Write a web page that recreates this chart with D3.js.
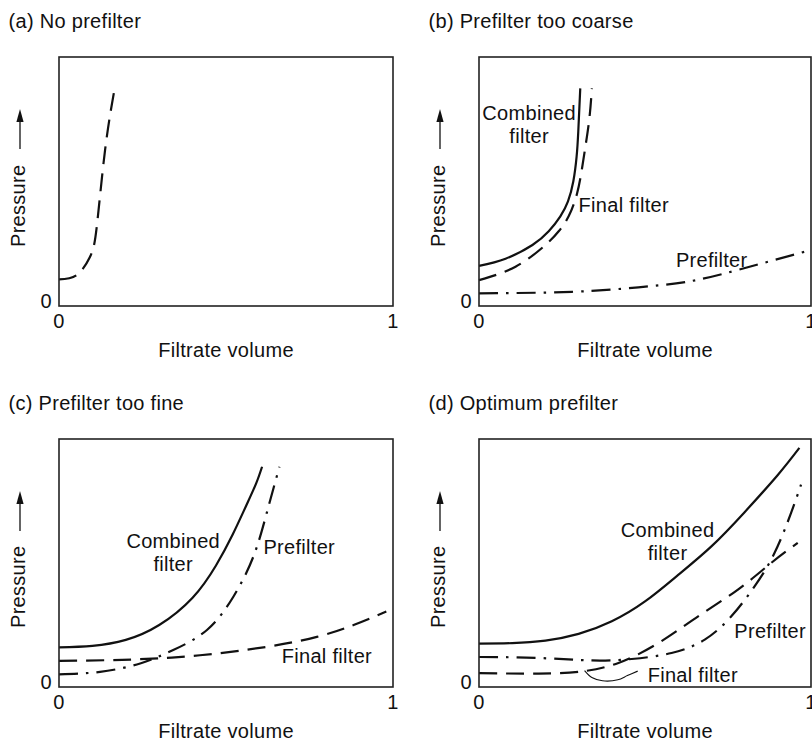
<!DOCTYPE html>
<html><head><meta charset="utf-8">
<script src="https://cdn.jsdelivr.net/npm/d3@7"></script>
<style>
body{margin:0;background:#fff}
svg{display:block}
text{font-family:"Liberation Sans",Arial,Helvetica,sans-serif;font-size:20px;letter-spacing:0.3px;fill:#111}
</style>
</head><body>
<svg id="chart" width="812" height="740"></svg>
<script>
// ---------- data (x: filtrate volume 0..1, y: relative pressure 0..1) ----------
const panelTitles = ["(a) No prefilter", "(b) Prefilter too coarse", "(c) Prefilter too fine", "(d) Optimum prefilter"];
const xTickLabels = ["0", "1"];
const yTickLabels = ["0"];
const xAxisTitle = "Filtrate volume";
const yAxisTitle = "Pressure";

// (a) No prefilter
const aFinal = [[0,0.107],[0.053,0.124],[0.093,0.198],[0.113,0.318],[0.138,0.627],[0.168,0.884]];

// (b) Prefilter too coarse
const bCombined = [[0,0.161],[0.08,0.19],[0.161,0.245],[0.21,0.3],[0.245,0.36],[0.268,0.42],[0.284,0.5],[0.294,0.6],[0.299,0.7],[0.305,0.874]];
const bFinal    = [[0,0.104],[0.11,0.158],[0.2,0.245],[0.24,0.3],[0.27,0.36],[0.295,0.45],[0.31,0.55],[0.322,0.653],[0.333,0.76],[0.34,0.874]];
const bPre      = [[0,0.051],[0.28,0.057],[0.48,0.075],[0.63,0.098],[0.78,0.145],[1.0,0.225]];

// (c) Prefilter too fine
const cCombined = [[0,0.16],[0.1,0.166],[0.2,0.19],[0.3,0.25],[0.4,0.36],[0.47,0.49],[0.52,0.615],[0.56,0.73],[0.59,0.82],[0.608,0.888]];
const cPre      = [[0,0.051],[0.123,0.061],[0.243,0.095],[0.342,0.149],[0.443,0.23],[0.522,0.364],[0.582,0.526],[0.622,0.702],[0.66,0.888]];
const cFinal    = [[0,0.105],[0.222,0.111],[0.422,0.128],[0.622,0.162],[0.772,0.202],[0.882,0.25],[0.98,0.304]];

// (d) Optimum prefilter
const dCombined = [[0,0.175],[0.1,0.177],[0.2,0.187],[0.3,0.214],[0.4,0.265],[0.5,0.345],[0.6,0.452],[0.7,0.567],[0.8,0.705],[0.9,0.855],[0.965,0.964]];
const dPre      = [[0,0.121],[0.18,0.117],[0.34,0.107],[0.46,0.113],[0.58,0.137],[0.68,0.191],[0.76,0.285],[0.83,0.406],[0.89,0.54],[0.94,0.702],[0.97,0.816]];
const dFinal    = [[0,0.056],[0.18,0.054],[0.31,0.063],[0.42,0.097],[0.54,0.177],[0.66,0.285],[0.78,0.393],[0.88,0.5],[0.96,0.581]];
const dLeader   = [[0.318,0.066],[0.34,0.038],[0.372,0.025],[0.418,0.029],[0.447,0.046],[0.478,0.064]];

// ---------- layout ----------
const styles = {
  solid:   {dash: null},
  dashed:  {dash: "18,9"},
  dashdot: {dash: "19,8,2.5,8"}
};

const panels = [
  {title: panelTitles[0], left: 59,  top: 57,  w: 334, h: 249,
   series: [{d: aFinal, s: "dashed"}], labels: []},
  {title: panelTitles[1], left: 479, top: 57,  w: 332, h: 249,
   series: [{d: bCombined, s: "solid"}, {d: bFinal, s: "dashed"}, {d: bPre, s: "dashdot"}],
   labels: [{t: ["Combined", "filter"], x: 0.151, y: 0.747, a: "middle"},
            {t: ["Final filter"], x: 0.300, y: 0.379, a: "start"},
            {t: ["Prefilter"], x: 0.593, y: 0.158, a: "start"}]},
  {title: panelTitles[2], left: 59,  top: 439, w: 334, h: 248,
   series: [{d: cCombined, s: "solid"}, {d: cPre, s: "dashdot"}, {d: cFinal, s: "dashed"}],
   labels: [{t: ["Combined", "filter"], x: 0.342, y: 0.559, a: "middle"},
            {t: ["Prefilter"], x: 0.612, y: 0.535, a: "start"},
            {t: ["Final filter"], x: 0.667, y: 0.096, a: "start"}]},
  {title: panelTitles[3], left: 479, top: 439, w: 332, h: 248,
   series: [{d: dCombined, s: "solid"}, {d: dPre, s: "dashdot"}, {d: dFinal, s: "dashed"}],
   leader: dLeader,
   labels: [{t: ["Combined", "filter"], x: 0.568, y: 0.606, a: "middle"},
            {t: ["Prefilter"], x: 0.769, y: 0.196, a: "start"},
            {t: ["Final filter"], x: 0.508, y: 0.021, a: "start"}]}
];

const svg = d3.select("#chart");

panels.forEach(p => {
  const g = svg.append("g");
  const x = d3.scaleLinear().domain([0, 1]).range([p.left, p.left + p.w]);
  const y = d3.scaleLinear().domain([0, 1]).range([p.top + p.h, p.top]);

  // title
  g.append("text").attr("x", p.left - 50.5).attr("y", p.top - 29).text(p.title);

  // curves
  const line = d3.line().x(d => x(d[0])).y(d => y(d[1])).curve(d3.curveNatural);
  p.series.forEach(s => {
    g.append("path").attr("d", line(s.d))
      .attr("fill", "none").attr("stroke", "#111").attr("stroke-width", 2.2)
      .attr("stroke-dasharray", styles[s.s].dash);
  });
  if (p.leader) {
    const lead = d3.line().x(d => x(d[0])).y(d => y(d[1])).curve(d3.curveCatmullRom);
    g.append("path").attr("d", lead(p.leader))
      .attr("fill", "none").attr("stroke", "#111").attr("stroke-width", 1.1);
  }

  // box
  g.append("rect").attr("x", p.left).attr("y", p.top).attr("width", p.w).attr("height", p.h)
    .attr("fill", "none").attr("stroke", "#222").attr("stroke-width", 1.6);

  // tick labels
  g.selectAll(".xt").data(xTickLabels).join("text")
    .attr("x", d => x(+d)).attr("y", p.top + p.h + 22).attr("text-anchor", "middle").text(d => d);
  g.selectAll(".yt").data(yTickLabels).join("text")
    .attr("x", p.left - 7).attr("y", d => y(+d) + 2).attr("text-anchor", "end").text(d => d);

  // axis titles
  g.append("text").attr("x", p.left + p.w / 2).attr("y", p.top + p.h + 51)
    .attr("text-anchor", "middle").text(xAxisTitle);

  const ty0 = p.top + p.h - 59;
  const tx = p.left - 34.5;
  g.append("text").attr("transform", `translate(${tx},${ty0}) rotate(-90)`)
    .attr("text-anchor", "start").text(yAxisTitle);
  const ax = p.left - 39;
  const tip = p.top + 52;
  g.append("line").attr("x1", ax).attr("x2", ax).attr("y1", tip + 40).attr("y2", tip + 10)
    .attr("stroke", "#111").attr("stroke-width", 1.3);
  g.append("path").attr("d", `M${ax},${tip} L${ax - 3.6},${tip + 13} L${ax + 3.6},${tip + 13} Z`)
    .attr("fill", "#111");

  // in-plot labels
  p.labels.forEach(l => {
    l.t.forEach((t, i) => {
      g.append("text").attr("x", x(l.x)).attr("y", y(l.y) + i * 23)
        .attr("text-anchor", l.a).text(t);
    });
  });
});
</script>
</body></html>
